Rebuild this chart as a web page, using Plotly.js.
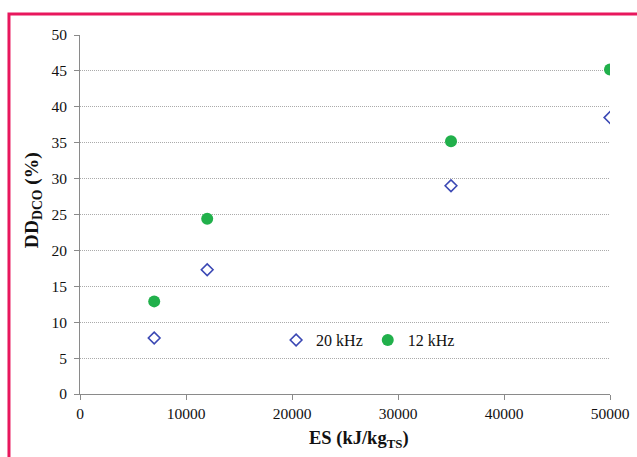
<!DOCTYPE html>
<html>
<head>
<meta charset="utf-8">
<script src="https://cdn.plot.ly/plotly-3.0.1.min.js"></script>
<style>html,body{margin:0;padding:0;background:#fff;}#chart{width:637px;height:457px;}</style>
</head>
<body>
<div id="chart"></div>
<script>
const esValues = [7000, 12000, 35000, 50000];
const dd20kHz = [7.8, 17.3, 29.0, 38.5];
const dd12kHz = [12.9, 24.4, 35.2, 45.2];
const seriesNames = ['20 kHz', '12 kHz'];
const xTicks = [0, 10000, 20000, 30000, 40000, 50000];
const yTicks = [0, 5, 10, 15, 20, 25, 30, 35, 40, 45, 50];
const xTitle = '<b>ES (kJ/kg<sub>TS</sub>)</b>';
const yTitle = '<b>DD<sub>DCO</sub> (%)</b>';

const traces = [
  {
    x: esValues, y: dd20kHz, name: seriesNames[0], type: 'scatter', mode: 'markers',
    marker: {symbol: 'diamond-open', size: 9, color: '#3b48b4', line: {width: 1.6, color: '#3b48b4'}}
  },
  {
    x: esValues, y: dd12kHz, name: seriesNames[1], type: 'scatter', mode: 'markers',
    marker: {symbol: 'circle', size: 12, color: '#21b04b'}
  }
];

const layout = {
  width: 637, height: 457,
  margin: {l: 80, r: 27, t: 35, b: 63},
  paper_bgcolor: '#ffffff', plot_bgcolor: '#ffffff',
  font: {family: '"Liberation Serif", "Times New Roman", serif', size: 15.5, color: '#111'},
  showlegend: true,
  legend: {orientation: 'h', x: 0.37, y: 0.15, xanchor: 'left', yanchor: 'middle',
           bgcolor: 'rgba(255,255,255,1)', font: {size: 16}, itemwidth: 30, tracegroupgap: 0},
  xaxis: {
    range: [0, 50000], tickvals: xTicks, ticktext: xTicks.map(String),
    showgrid: false, zeroline: false, showline: true, linecolor: '#8a8a8a', linewidth: 1,
    ticks: 'outside', ticklen: 5, tickcolor: '#8a8a8a',
    fixedrange: true
  },
  yaxis: {
    range: [0, 50], tickvals: yTicks, ticktext: yTicks.map(String),
    showgrid: true, gridcolor: '#ababab', griddash: '1px,1px', gridwidth: 1,
    zeroline: false, showline: true, linecolor: '#8a8a8a', linewidth: 1,
    ticks: 'outside', ticklen: 5, tickcolor: '#8a8a8a', ticklabelstandoff: 4,
    fixedrange: true
  },
  annotations: [
    {text: xTitle, xref: 'paper', yref: 'paper', x: 0.526, y: -0.128, xanchor: 'center', yanchor: 'middle',
     showarrow: false, font: {size: 18.5, color: '#111'}},
    {text: yTitle, xref: 'paper', yref: 'paper', x: -0.0887, y: 0.54, xanchor: 'center', yanchor: 'middle',
     textangle: -90, showarrow: false, font: {size: 19.5, color: '#111'}}
  ],
  shapes: [
    {type: 'rect', xref: 'paper', yref: 'paper', x0: -0.134, x1: 1.2, y0: -0.3, y1: 1.0585,
     line: {color: '#e8175d', width: 3}, fillcolor: 'rgba(0,0,0,0)', layer: 'above'}
  ]
};

Plotly.newPlot('chart', traces, layout, {displayModeBar: false, staticPlot: true});
</script>
</body>
</html>
